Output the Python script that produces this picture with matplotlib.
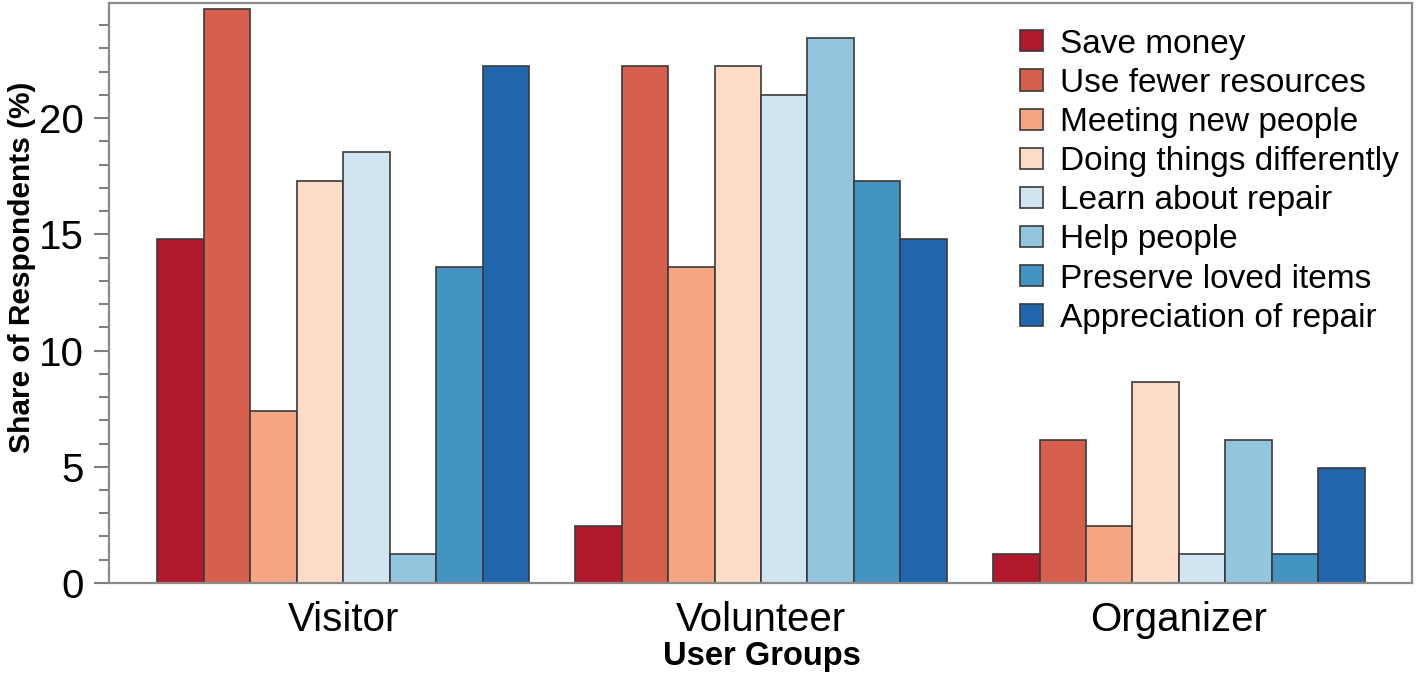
import numpy as np
import matplotlib
matplotlib.use("Agg")
import matplotlib.pyplot as plt
from matplotlib.ticker import MultipleLocator

# Share of respondents (%) per motivation, by user group
groups = ["Visitor", "Volunteer", "Organizer"]
motives = ["Save money", "Use fewer resources", "Meeting new people",
           "Doing things differently", "Learn about repair", "Help people",
           "Preserve loved items", "Appreciation of repair"]

save_money = [14.81, 2.47, 1.23]
fewer_resources = [24.69, 22.22, 6.17]
meeting_people = [7.41, 13.58, 2.47]
doing_differently = [17.28, 22.22, 8.64]
learn_repair = [18.52, 20.99, 1.23]
help_people = [1.23, 23.46, 6.17]
preserve_items = [13.58, 17.28, 1.23]
appreciation = [22.22, 14.81, 4.94]

series = [save_money, fewer_resources, meeting_people, doing_differently,
          learn_repair, help_people, preserve_items, appreciation]

colors = ["#b2182b", "#d6604d", "#f4a582", "#fddbc7",
          "#d1e5f0", "#92c5de", "#4393c3", "#2166ac"]

plt.rcParams['font.family'] = ['Liberation Sans', 'DejaVu Sans']

fig = plt.figure(figsize=(14.16, 6.82), dpi=100)
ax = fig.add_axes([0.077, 0.1452, 0.92, 0.8504])

x = np.arange(len(groups))
width = 0.1112
n = len(series)
for i, (vals, col, lab) in enumerate(zip(series, colors, motives)):
    offs = (i - (n - 1) / 2) * width
    ax.bar(x + offs, vals, width, color=col, edgecolor="#3a3a3a",
           linewidth=1.2, label=lab)

ax.set_xlim(-0.56, 2.557)
ax.set_ylim(0, 24.95)
ax.set_xticks(x)
ax.set_xticklabels(groups, fontsize=29)
ax.tick_params(axis='x', length=0, pad=13)

ax.yaxis.set_major_locator(MultipleLocator(5))
ax.yaxis.set_minor_locator(MultipleLocator(1))
ax.tick_params(axis='y', which='major', labelsize=29, length=11, width=1.5,
               color="#7f7f7f", pad=7)
ax.tick_params(axis='y', which='minor', length=7, width=1.5, color="#7f7f7f")

for sp in ax.spines.values():
    sp.set_color("#8a8a8a")
    sp.set_linewidth(1.6)

ax.set_ylabel("Share of Respondents (%)", fontsize=21.5, fontweight='bold')
ax.yaxis.set_label_coords(-0.056, 0.545)
ax.set_xlabel("User Groups", fontsize=23.5, fontweight='bold')
ax.xaxis.set_label_coords(0.5015, -0.1)

ax.legend(loc='upper left', bbox_to_anchor=(0.699, 0.956), frameon=False,
          fontsize=24, handlelength=0.7, handleheight=0.6,
          handletextpad=0.5, labelspacing=0.245, borderpad=0, borderaxespad=0)

fig.savefig("out.png", dpi=100)
